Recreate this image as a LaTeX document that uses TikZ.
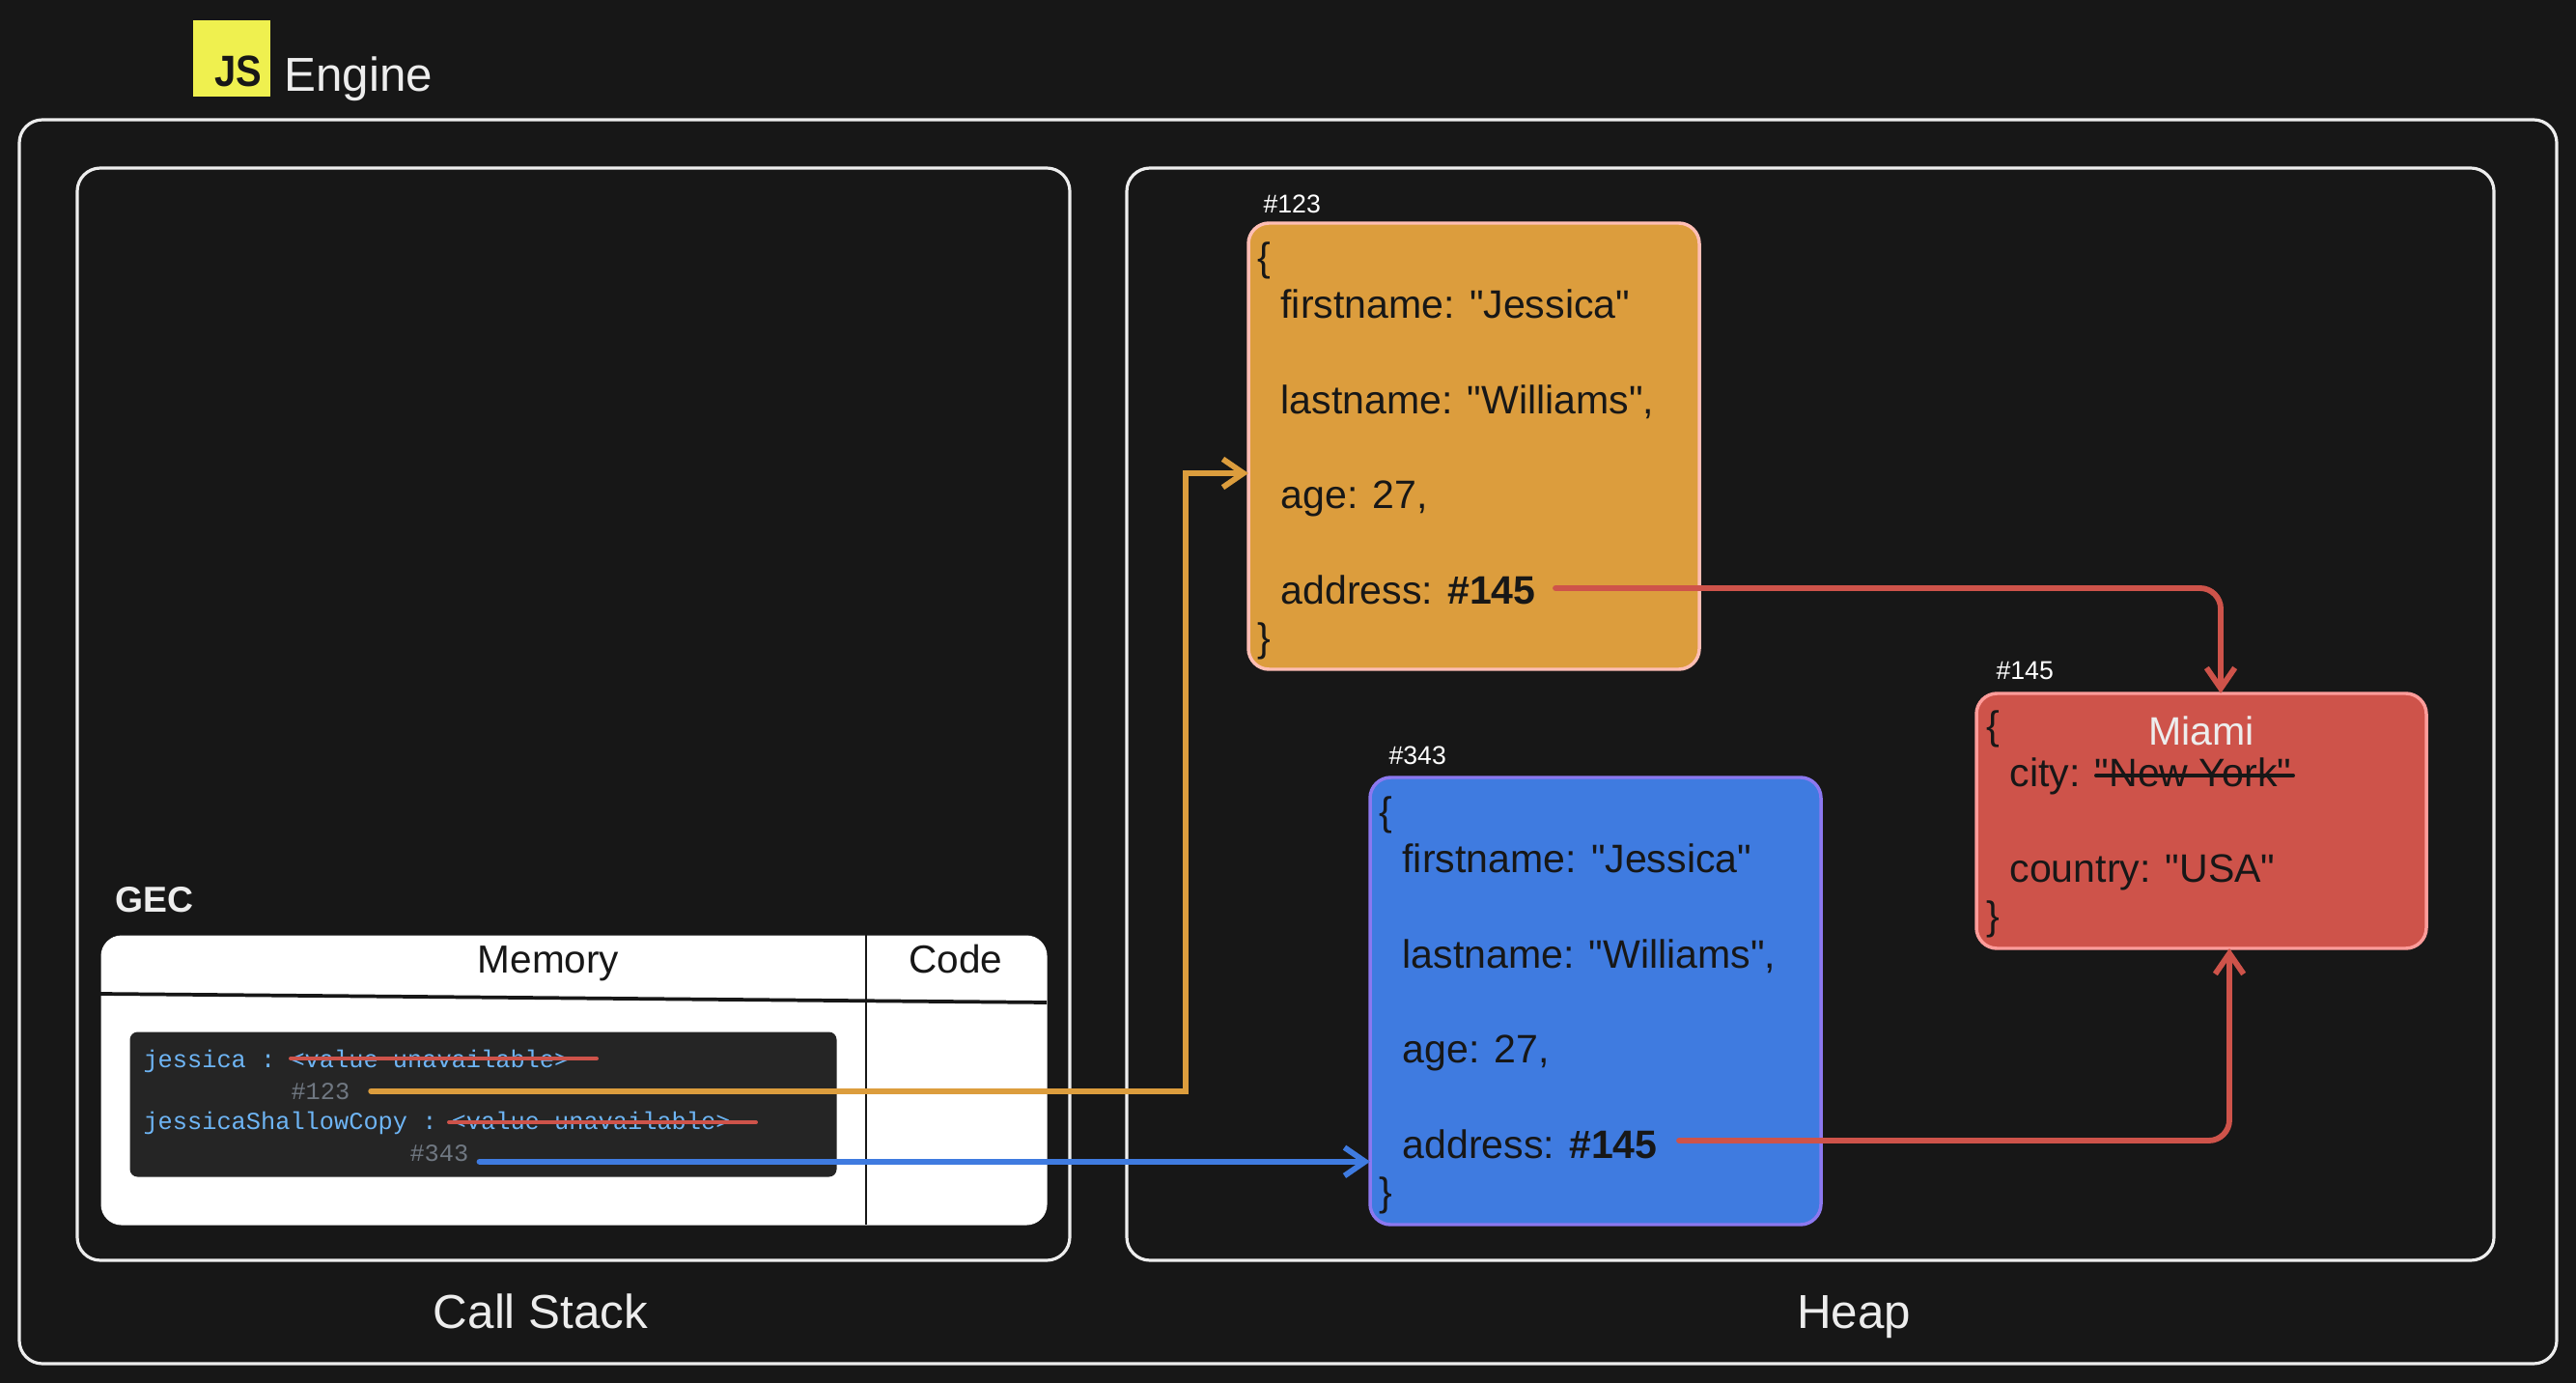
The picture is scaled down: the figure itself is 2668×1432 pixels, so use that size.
\documentclass[tikz,border=0pt]{standalone}
\usepackage{fontspec}
\defaultfontfeatures[\rmfamily]{}
\setmainfont{Liberation Sans}
\setmonofont{Liberation Mono}
\usetikzlibrary{arrows.meta}

\definecolor{pagebg}{RGB}{23,23,23}
\definecolor{framecol}{RGB}{237,237,237}
\definecolor{orangecol}{RGB}{220,157,61}
\definecolor{orangeedge}{RGB}{255,190,180}
\definecolor{bluecol}{RGB}{63,123,224}
\definecolor{blueedge}{RGB}{140,120,240}
\definecolor{redcol}{RGB}{206,83,74}
\definecolor{rededge}{RGB}{255,156,154}
\definecolor{jsyellow}{RGB}{239,240,79}
\definecolor{panelcol}{RGB}{37,37,37}
\definecolor{codeblue}{RGB}{110,181,245}
\definecolor{codegrey}{RGB}{112,120,130}

\tikzset{
  boxsize/.style 2 args={minimum width=#1*0.375pt,minimum height=#2*0.375pt},
  frame/.style={draw=framecol,line width=1.2pt,rounded corners=9pt,anchor=north west,inner sep=0pt,outer sep=0pt},
  objbox/.style={line width=1.3pt,rounded corners=8pt,anchor=north west,inner sep=0pt,outer sep=0pt},
  title/.style={text=framecol,font=\fontsize{18.5}{22}\selectfont,inner sep=0pt,anchor=base},
  header/.style={text=pagebg,font=\fontsize{15.2}{18}\selectfont,inner sep=0pt,anchor=base},
  fields/.style={text=pagebg,font=\fontsize{15.4}{18.5}\selectfont,align=left,anchor=north west,inner sep=0pt},
  addr/.style={text=white,font=\fontsize{10}{12}\selectfont,anchor=base west,inner sep=0pt},
  codeline/.style={font=\ttfamily\fontsize{9.5}{11}\selectfont,anchor=base west,inner sep=0pt},
  link/.style={line width=2.2pt,line cap=round,-{Straight Barb[length=8pt,width=11pt,line width=2.2pt]}},
  strike/.style={line width=1.5pt,line cap=round},
}

\begin{document}
\begin{tikzpicture}[x=0.375pt,y=0.375pt,yscale=-1,xscale=1]
\fill[pagebg] (0,0) rectangle (2668,1432);

%JS logo and title
\node[fill=jsyellow,boxsize={80}{79},anchor=north west,inner sep=0pt] (jslogo) at (199,20) {};
\node[text=pagebg,font=\bfseries\fontsize{17}{20}\selectfont,inner sep=0pt] (jstext) at (247,74) {\scalebox{0.88}[1]{JS}};
\node[title,anchor=base west] (enginelabel) at (294,95) {Engine};

%Frames
\node[frame,boxsize={2628}{1288}] (engineframe) at (20,124) {};
\node[frame,boxsize={1028}{1131}] (callstack) at (80,174) {};
\node[frame,boxsize={1416}{1131}] (heap) at (1167,174) {};
\node[title] (callstacklabel) at (560,1375) {Call Stack};
\node[title] (heaplabel) at (1920,1375) {Heap};

%GEC table
\node[text=framecol,font=\bfseries\fontsize{14}{17}\selectfont,anchor=west,inner sep=0pt] (geclabel) at (119,932) {GEC};
\node[fill=white,rounded corners=8pt,boxsize={980}{300},anchor=north west,inner sep=0pt] (gectable) at (104,968) {};
\coordinate (rowleft) at (104,1029);
\coordinate (rowright) at (1084,1038);
\draw[pagebg,line width=1.4pt] (rowleft) -- (rowright);
\draw[pagebg,line width=0.9pt] (897,968) -- (897,1268);
\node[header] (memorylabel) at (568,1007) {Memory};
\node[header] (codelabel) at (990,1007) {Code};

%Debugger panel
\node[fill=panelcol,rounded corners=3pt,boxsize={732}{150},anchor=north west,inner sep=0pt] (panel) at (134,1068) {};
\node[codeline,text=codeblue] (jessicaline) at (148,1105) {jessica : <value unavailable>};
\node[codeline,text=codegrey] (refjessica) at (301,1138) {\#123};
\node[codeline,text=codeblue] (copyline) at (148,1169) {jessicaShallowCopy : <value unavailable>};
\node[codeline,text=codegrey] (refcopy) at (424,1202) {\#343};
\coordinate (strikeonea) at (301,1096);
\coordinate (strikeoneb) at (618,1096);
\coordinate (striketwoa) at (465,1162);
\coordinate (striketwob) at (783,1162);
\draw[strike,redcol] (strikeonea) -- (strikeoneb);
\draw[strike,redcol] (striketwoa) -- (striketwob);

%Orange object
\node[objbox,fill=orangecol,draw=orangeedge,boxsize={467}{462}] (orangebox) at (1293,231) {};
\node[addr] (orangeaddr) at (1308,221) {\#123};
\node[fields] (orangefields) at (1302,250) {\{\\
\hspace*{9pt}firstname: "Jessica"\\ ~\\
\hspace*{9pt}lastname: "Williams",\\ ~\\
\hspace*{9pt}age: 27,\\ ~\\
\hspace*{9pt}address: \textbf{\#145}\\
\}};

%Blue object
\node[objbox,fill=bluecol,draw=blueedge,boxsize={467}{463}] (bluebox) at (1419,805) {};
\node[addr] (blueaddr) at (1438,791) {\#343};
\node[fields] (bluefields) at (1428,824) {\{\\
\hspace*{9pt}firstname: "Jessica"\\ ~\\
\hspace*{9pt}lastname: "Williams",\\ ~\\
\hspace*{9pt}age: 27,\\ ~\\
\hspace*{9pt}address: \textbf{\#145}\\
\}};

%Red object
\node[objbox,fill=redcol,draw=rededge,boxsize={466}{264}] (redbox) at (2047,718) {};
\node[addr] (redaddr) at (2067,704) {\#145};
\node[fields] (redfields) at (2057,735) {\{\\
\hspace*{9pt}city: "New York"\\ ~\\
\hspace*{9pt}country: "USA"\\
\}};
\node[text=framecol,font=\fontsize{15.4}{18.5}\selectfont,inner sep=0pt] (redcity) at (2280,757) {Miami};
\coordinate (nystrikea) at (2171,803);
\coordinate (nystrikeb) at (2375,803);
\draw[strike,pagebg] (nystrikea) -- (nystrikeb);

%Connectors
\coordinate (orangehop) at (1228,490);
\coordinate (orangestart) at (1611,609);
\coordinate (bluestart) at (1739,1181);
\coordinate (redtop) at (2300,718);
\coordinate (redbottom) at (2309,982);
\draw[link,orangecol,shorten <=8pt] (refjessica.east) -| (orangehop) -- (orangebox.west |- orangehop);
\draw[link,bluecol,shorten <=4pt] (refcopy.south east) -- (bluebox.west |- refcopy.south east);
\draw[link,redcol,rounded corners=8pt] (orangestart) -| (redbox.north -| redtop);
\draw[link,redcol,rounded corners=8pt] (bluestart) -| (redbox.south -| redbottom);
\end{tikzpicture}
\end{document}
